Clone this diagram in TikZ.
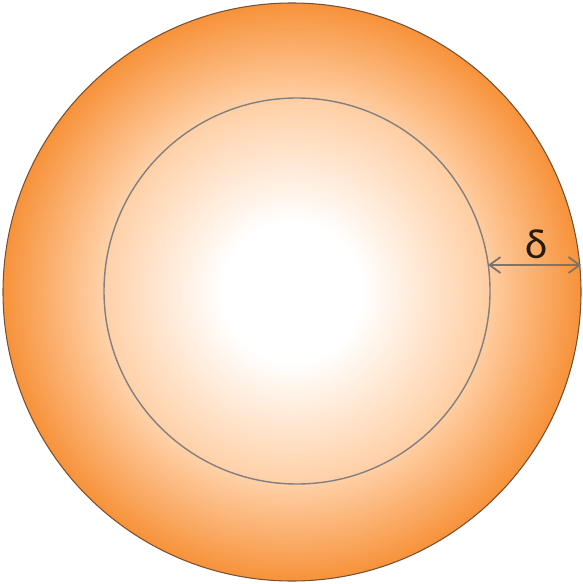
\documentclass[tikz,border=0pt]{standalone}
\usepackage{fontspec}
\setsansfont{Carlito}
\usetikzlibrary{arrows.meta}
\definecolor{ringorange}{RGB}{247,146,58}
\definecolor{peach}{RGB}{255,207,165}
\definecolor{rimline}{RGB}{120,80,50}
\definecolor{gapgray}{RGB}{125,115,105}
\pgfdeclareradialshading{glow}{\pgfpoint{0bp}{0bp}}{color(0bp)=(white); color(6bp)=(white); color(16.7bp)=(peach); color(25bp)=(ringorange); color(50bp)=(ringorange)}

\begin{document}
\begin{tikzpicture}[
    x=0.02cm, y=-0.02cm,
    rim/.style={draw=rimline, line width=0.6pt, shading=glow},
    core/.style={draw=gray, line width=0.8pt},
    gap/.style={{Straight Barb[length=2.2mm,width=3.2mm]}-{Straight Barb[length=2.2mm,width=3.2mm]}, draw=gapgray, line width=1pt}
]
\useasboundingbox (0,0) rectangle (582,584);
\shade[rim] (292,292) circle[radius=289];
\draw[core] (297,291) circle[radius=193];
\coordinate (inedge) at (488,265);
\coordinate (outedge) at (581,265);
\draw[gap] (inedge) -- (outedge);
\node[font=\sffamily\fontsize{24}{28}\selectfont, text=black!80!brown] (delta) at (537,244) {δ};
\end{tikzpicture}
\end{document}
